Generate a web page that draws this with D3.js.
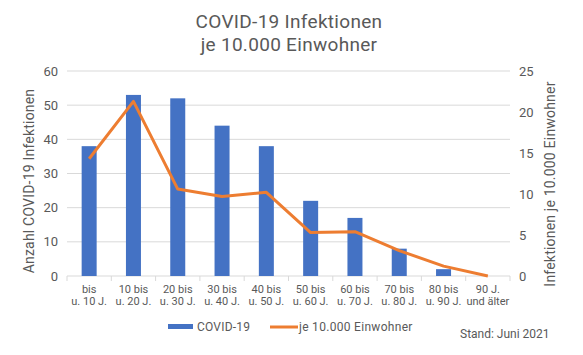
<!DOCTYPE html>
<html><head><meta charset="utf-8">
<script src="https://cdn.jsdelivr.net/npm/d3@7"></script>
<style>body{margin:0;background:#fff}text{font-family:Roboto,"Liberation Sans",sans-serif;fill:#595959}</style>
</head><body><svg id="c" width="583" height="355"></svg>
<script>
const categories = [["bis","u. 10 J."],["10 bis","u. 20 J."],["20 bis","u. 30 J."],["30 bis","u. 40 J."],["40 bis","u. 50 J."],["50 bis","u. 60 J."],["60 bis","u. 70 J."],["70 bis","u. 80 J."],["80 bis","u. 90 J."],["90 J.","und älter"]];
const infections = [38, 53, 52, 44, 38, 22, 17, 8, 2, 0];
const per10000 = [14.3, 21.3, 10.6, 9.7, 10.2, 5.3, 5.4, 3.1, 1.2, 0];
const leftTicks = [0,10,20,30,40,50,60];
const rightTicks = [0,5,10,15,20,25];

const svg = d3.select("#c");
const L = 67, R = 510, T = 71, B = 276;
const x = d3.scaleBand().domain(d3.range(categories.length)).range([L,R]);
const yL = d3.scaleLinear().domain([0,60]).range([B,T]);
const yR = d3.scaleLinear().domain([0,25]).range([B,T]);

svg.append("g").selectAll("line").data(leftTicks.filter(d=>d>0)).join("line")
  .attr("x1",L).attr("x2",R).attr("y1",d=>yL(d)).attr("y2",d=>yL(d))
  .attr("stroke","#d9d9d9").attr("stroke-width",1);
svg.append("line").attr("x1",L).attr("x2",R).attr("y1",B).attr("y2",B).attr("stroke","#d9d9d9");
svg.append("g").selectAll("line").data(d3.range(categories.length+1)).join("line")
  .attr("x1",d=>L+d*x.step()).attr("x2",d=>L+d*x.step()).attr("y1",B).attr("y2",B+5)
  .attr("stroke","#d9d9d9");

svg.append("g").selectAll("text").data(leftTicks).join("text")
  .attr("x",58).attr("y",d=>yL(d)+4.5).attr("text-anchor","end").attr("font-size",13).text(d=>d);
svg.append("g").selectAll("text").data(rightTicks).join("text")
  .attr("x",519).attr("y",d=>yR(d)+4.5).attr("text-anchor","start").attr("font-size",13).text(d=>d);

const bw = 15;
svg.append("g").selectAll("rect").data(infections).join("rect")
  .attr("x",(d,i)=>x(i)+x.bandwidth()/2-bw/2).attr("width",bw)
  .attr("y",d=>yL(d)).attr("height",d=>B-yL(d)).attr("fill","#4472C4");

const line = d3.line().x((d,i)=>x(i)+x.bandwidth()/2).y(d=>yR(d));
svg.append("path").datum(per10000).attr("d",line).attr("fill","none")
  .attr("stroke","#ED7D31").attr("stroke-width",3).attr("stroke-linejoin","round");

const xl = svg.append("g").selectAll("text").data(categories).join("text")
  .attr("text-anchor","middle").attr("font-size",11);
xl.append("tspan").attr("x",(d,i)=>x(i)+x.bandwidth()/2).attr("y",293).text(d=>d[0]);
xl.append("tspan").attr("x",(d,i)=>x(i)+x.bandwidth()/2).attr("y",305).text(d=>d[1]);

svg.append("text").attr("transform","translate(34,181) rotate(-90)").attr("text-anchor","middle")
  .attr("font-size",14).attr("letter-spacing",0.2).text("Anzahl COVID-19 Infektionen");
svg.append("text").attr("transform","translate(555,184) rotate(-90)").attr("text-anchor","middle")
  .attr("font-size",14).attr("letter-spacing",0.2).text("Infektionen je 10.000 Einwohner");

svg.append("text").attr("x",289).attr("y",28).attr("text-anchor","middle").attr("font-size",19).attr("letter-spacing",0.3).text("COVID-19 Infektionen");
svg.append("text").attr("x",289).attr("y",51).attr("text-anchor","middle").attr("font-size",19).attr("letter-spacing",0.3).text("je 10.000 Einwohner");

svg.append("rect").attr("x",168).attr("y",324).attr("width",25).attr("height",5).attr("fill","#4472C4");
svg.append("text").attr("x",197).attr("y",331).attr("font-size",12).attr("letter-spacing",0.2).text("COVID-19");
svg.append("line").attr("x1",270).attr("x2",298).attr("y1",327).attr("y2",327).attr("stroke","#ED7D31").attr("stroke-width",3);
svg.append("text").attr("x",299).attr("y",331).attr("font-size",12).attr("letter-spacing",0.3).text("je 10.000 Einwohner");
svg.append("text").attr("x",460).attr("y",338).attr("font-size",12).text("Stand:  Juni  2021");
</script></body></html>
